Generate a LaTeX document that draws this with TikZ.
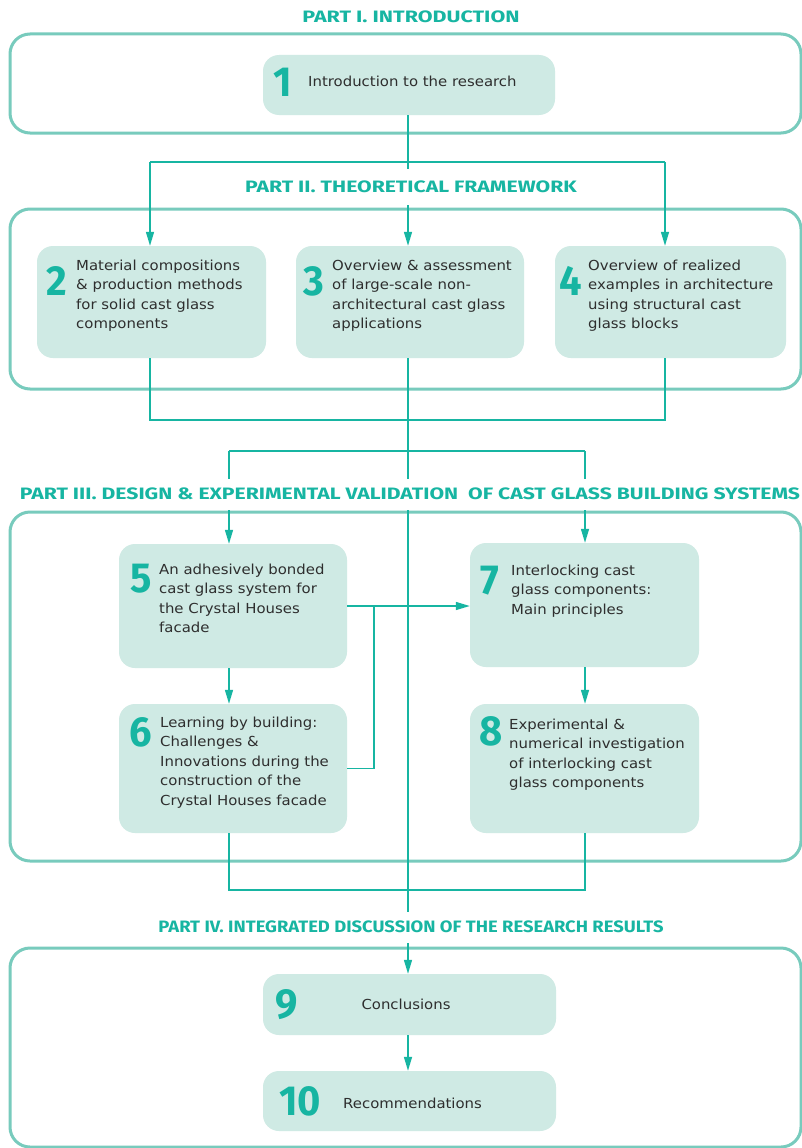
\documentclass[tikz,border=0pt]{standalone}
\usepackage{fontspec}
\usetikzlibrary{arrows.meta}
\setmainfont{DejaVu Sans}[FakeStretch=1.08]
\newfontfamily\headfont{Fira Sans}[UprightFont=* Bold]
\newfontfamily\digitfont{Fira Sans}[UprightFont=* Bold,FakeStretch=0.95]
\definecolor{teal}{HTML}{17B5A2}
\definecolor{framec}{HTML}{78CBBD}
\definecolor{boxc}{HTML}{CFEAE4}
\definecolor{textc}{HTML}{2E2E2E}
\tikzset{
  frame/.style={draw=framec, line width=3pt, rounded corners=20pt},
  chapter/.style={fill=boxc, rounded corners=16pt, inner sep=0pt},
  num/.style={text=teal, inner sep=0pt, font=\digitfont\fontsize{42}{42}\selectfont},
  body/.style={text=textc, inner sep=0pt, align=left, anchor=north west,
    font=\fontsize{13.8}{19.6}\selectfont},
  parttitle/.style={text=teal, fill=white, inner xsep=5pt, inner ysep=0pt,
    minimum height=31pt, font=\headfont\fontsize{16.5}{18}\selectfont},
  link/.style={draw=teal, line width=1.4pt},
  arr/.style={link, -{Triangle[length=14pt,width=8pt]}}
}
\begin{document}
\begin{tikzpicture}[x=1pt, y=-1pt]
\clip (0,0) rectangle (802,1148);
\fill[white] (0,0) rectangle (802,1148);

% part frames
\draw[frame] (10,34) rectangle (801,133);
\draw[frame] (10,209) rectangle (801,389);
\draw[frame] (10,512) rectangle (801,861);
\draw[frame] (10,948) rectangle (801,1147);

% chapter boxes
\node[chapter, minimum width=292pt, minimum height=60pt] (b1) at (409,85) {};
\node[chapter, minimum width=229pt, minimum height=112pt] (b2) at (151.5,302) {};
\node[chapter, minimum width=228pt, minimum height=112pt] (b3) at (410,302) {};
\node[chapter, minimum width=231pt, minimum height=112pt] (b4) at (670.5,302) {};
\node[chapter, minimum width=228pt, minimum height=124pt] (b5) at (233,606) {};
\node[chapter, minimum width=228pt, minimum height=129pt] (b6) at (233,768.5) {};
\node[chapter, minimum width=229pt, minimum height=124pt] (b7) at (584.5,605) {};
\node[chapter, minimum width=229pt, minimum height=129pt] (b8) at (584.5,768.5) {};
\node[chapter, minimum width=293pt, minimum height=61pt] (b9) at (409.5,1004.5) {};
\node[chapter, minimum width=293pt, minimum height=60pt] (b10) at (409.5,1101) {};

% chapter numbers
\node[num] (n1) at (283,82) {1};
\node[num] (n2) at (57,281) {2};
\node[num] (n3) at (314,281) {3};
\node[num] (n4) at (571,281) {4};
\node[num] (n5) at (141,579) {5};
\node[num] (n6) at (141,732) {6};
\node[num] (n7) at (490,581) {7};
\node[num] (n8) at (491,731) {8};
\node[num] (n9) at (287,1005) {9};
\node[num] (n10) at (300,1101) {10};

% chapter titles
\node[body, anchor=west] (t1) at (308,81) {Introduction to the research};
\node[body] (t2) at (76,259.5) {Material compositions\\\& production methods\\for solid cast glass\\components};
\node[body] (t3) at (332,259.5) {Overview \& assessment\\of large-scale non-\\architectural cast glass\\applications};
\node[body] (t4) at (588,259.5) {Overview of realized\\examples in architecture\\using structural cast\\glass blocks};
\node[body] (t5) at (159,563.5) {An adhesively bonded\\cast glass system for\\the Crystal Houses\\facade};
\node[body] (t6) at (160,716.5) {Learning by building:\\Challenges \&\\Innovations during the\\construction of the\\Crystal Houses facade};
\node[body] (t7) at (511,564.5) {Interlocking cast\\glass components:\\Main principles};
\node[body] (t8) at (509,718.5) {Experimental \&\\numerical investigation\\of interlocking cast\\glass components};
\node[body, anchor=center] (t9) at (406,1004) {Conclusions};
\node[body, anchor=west] (t10) at (343,1103) {Recommendations};

% junction points
\coordinate (j1) at (408,162);
\coordinate (a2) at (150,162);
\coordinate (a4) at (665,162);
\coordinate (c2) at (150,420);
\coordinate (c3) at (408,420);
\coordinate (c4) at (665,420);
\coordinate (s) at (408,451);
\coordinate (s5) at (229,451);
\coordinate (s7) at (585,451);
\coordinate (m) at (374,606);
\coordinate (e5) at (229,890);
\coordinate (e7) at (585,890);

% part I -> part II
\draw[link] (b1.south -| j1) -- (j1);
\draw[link] (a2) -- (a4);
\draw[arr] (a2) -- (a2 |- b2.north);
\draw[arr] (j1) -- (j1 |- b3.north);
\draw[arr] (a4) -- (a4 |- b4.north);

% part II -> part III
\draw[link] (c2 |- b2.south) -- (c2) -- (c4) -- (c4 |- b4.south);
\draw[link] (c3 |- b3.south) -- (c3) -- (s);
\draw[link] (s5) -- (s7);
\draw[arr] (s5) -- (s5 |- b5.north);
\draw[arr] (s7) -- (s7 |- b7.north);

% inside part III
\draw[arr] (s5 |- b5.south) -- (s5 |- b6.north);
\draw[arr] (s7 |- b7.south) -- (s7 |- b8.north);
\draw[arr] (b5.east |- m) -- (b7.west |- m);
\draw[link] (b6.east) -- (m |- b6.east) -- (m);
\draw[link] (s5 |- b6.south) -- (e5) -- (e7) -- (e7 |- b8.south);

% spine into part IV
\draw[arr] (s) -- (s |- b9.north);
\draw[arr] (s |- b9.south) -- (s |- b10.north);

% part headings
\node[parttitle] (p1) at (411,17) {\scalebox{1.3}[1]{PART I. INTRODUCTION}};
\node[parttitle, minimum height=36pt] (p2) at (411,187) {\scalebox{1.283}[1]{PART II. THEORETICAL FRAMEWORK}};
\node[parttitle] (p3) at (410,494) {\scalebox{1.283}[1]{PART III. DESIGN \& EXPERIMENTAL VALIDATION\ \ OF CAST GLASS BUILDING SYSTEMS}};
\node[parttitle] (p4) at (411,927) {\scalebox{1.115}[1]{PART IV. INTEGRATED DISCUSSION OF THE RESEARCH RESULTS}};
\end{tikzpicture}
\end{document}
